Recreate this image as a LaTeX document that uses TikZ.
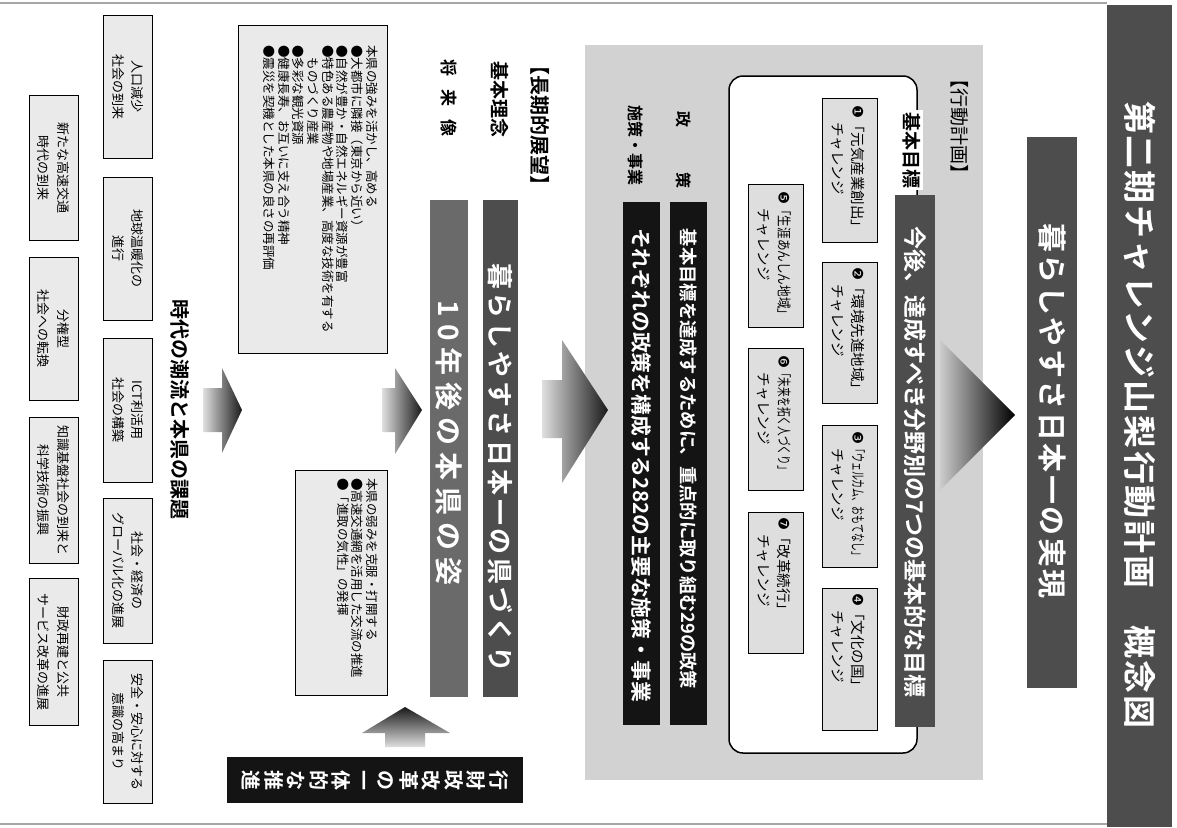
\documentclass[tikz,border=0pt]{standalone}
\usepackage{fontspec}
\usepackage{graphicx}
\setmainfont{Noto Sans CJK JP}[BoldFont={Noto Sans CJK JP Bold}]
\newfontfamily\dvfont{DejaVu Sans}
\newcommand\fsz[2]{\fontsize{#1}{#2}\selectfont}
\makeatletter
\newcommand\spc[2]{\def\spc@amt{#1}\spc@loop#2\relax}
\def\spc@loop#1{\ifx\relax#1\else#1\hspace{\spc@amt}\expandafter\spc@loop\fi}
\makeatother
\definecolor{darkbar}{HTML}{4D4D4D}
\definecolor{midbar}{HTML}{6A6A6A}
\definecolor{bgband}{HTML}{D2D2D2}
\definecolor{chbox}{HTML}{DEDEDE}
\definecolor{lightbox}{HTML}{EAEAEA}
\definecolor{nearblack}{HTML}{141414}
\begin{document}
\begin{tikzpicture}[x=1pt,y=-1pt,
  tx/.style={rotate=-90,inner sep=0pt},
  wtx/.style={rotate=-90,inner sep=0pt,text=white},
  chframe/.style={draw=black,line width=0.9pt,fill=chbox},
  lbox/.style={draw=black,line width=0.9pt,fill=lightbox},
  arrowshade/.style={left color=gray!25,right color=black!90}]
\useasboundingbox (0,0) rectangle (1177,827);
\fill[white] (0,0) rectangle (1177,827);
% page edges
\draw[gray!70,line width=1.2pt] (0,3) -- (1107,3);
\draw[gray!70,line width=1.2pt] (0,824) -- (1107,824);

% title
\fill[darkbar] (1107,5) rectangle (1172,827);
\node[wtx,font={\bfseries\fsz{33}{33}}] (title) at (1139.5,415) {\spc{2pt}{第二期チャレンジ山梨行動計画　概念図}};
\fill[darkbar] (1027,137) rectangle (1077,688);
\node[wtx,font={\bfseries\fsz{29}{29}}] (subtitle) at (1052,411) {\spc{2.5pt}{暮らしやすさ日本一の実現}};

% action plan band
\fill[bgband] (585,45) rectangle (983,780);
\shade[left color=gray!40,right color=black] (940,340) -- (1015,415) -- (940,490) -- cycle;
\node[tx,font={\fsz{19}{19}}] (koudou) at (960,126) {【行動計画】};
\draw[line width=1.5pt,fill=white,rounded corners=14pt] (729,76) rectangle (917,753);
\node[tx,fill=white,inner sep=2pt,font={\bfseries\fsz{19}{19}}] (kihon) at (912,150) {基本目標};
\fill[darkbar] (895,195) rectangle (935,727);
\node[wtx,font={\bfseries\fsz{23}{23}}] (kongo) at (915,462) {今後、達成すべき分野別の7つの基本的な目標};

% challenge boxes
\draw[chframe] (822,98) rectangle (877,242);
\draw[chframe] (822,262) rectangle (877,403);
\draw[chframe] (822,425) rectangle (877,567);
\draw[chframe] (822,588) rectangle (877,730);
\draw[chframe] (748,184) rectangle (803,327);
\draw[chframe] (748,348) rectangle (803,490);
\draw[chframe] (748,512) rectangle (803,653);
\node[tx,anchor=west,align=left,font={\fsz{14.5}{20}}] (ch1) at (848,105) {{\dvfont ❶}「元気産業創出」\\\hspace*{1.2em}チャレンジ};
\node[tx,anchor=west,align=left,font={\fsz{14.5}{20}}] (ch2) at (848,267) {{\dvfont ❷}「環境先進地域」\\\hspace*{1.2em}チャレンジ};
\node[tx,anchor=west,align=left,font={\fsz{14.5}{20}}] (ch3) at (848,431) {{\dvfont ❸}\scalebox{0.62}[1]{「ウェルカム、おもてなし」}\\\hspace*{1.2em}チャレンジ};
\node[tx,anchor=west,align=left,font={\fsz{14.5}{20}}] (ch4) at (848,593) {{\dvfont ❹}「文化の国」\\\hspace*{1.2em}チャレンジ};
\node[tx,anchor=west,align=left,font={\fsz{14.5}{20}}] (ch5) at (774,191) {{\dvfont ❺}\scalebox{0.8}[1]{「生涯あんしん地域」}\\\hspace*{1.2em}チャレンジ};
\node[tx,anchor=west,align=left,font={\fsz{14.5}{20}}] (ch6) at (774,355) {{\dvfont ❻}\scalebox{0.67}[1]{「未来を拓く人づくり」}\\\hspace*{1.2em}チャレンジ};
\node[tx,anchor=west,align=left,font={\fsz{14.5}{20}}] (ch7) at (774,517) {{\dvfont ❼}「改革続行」\\\hspace*{1.2em}チャレンジ};

% policies
\node[tx,font={\bfseries\fsz{16}{16}}] (seisaku) at (684,150) {政\hspace{45pt}策};
\node[tx,font={\bfseries\fsz{16}{16}}] (shisaku) at (636,145) {施策・事業};
\fill[nearblack] (670,202) rectangle (707,725);
\node[wtx,font={\bfseries\fsz{18.3}{18.3}}] (pol) at (688.5,459) {基本目標を達成するために、重点的に取り組む29の政策};
\fill[nearblack] (623,202) rectangle (660,725);
\node[wtx,font={\bfseries\fsz{20.8}{20.8}}] (mea) at (641.5,465) {それぞれの政策を構成する282の主要な施策・事業};

% arrow into action plan
\shade[arrowshade] (542,380) -- (562,380) -- (562,340) -- (608,410) -- (562,483) -- (562,438) -- (542,438) -- cycle;

% long-term vision
\node[tx,font={\bfseries\fsz{20}{20}}] (choki) at (540,125) {【長期的展望】};
\node[tx,font={\bfseries\fsz{19}{19}}] (rinen) at (500,99) {基本理念};
\node[tx,font={\bfseries\fsz{17}{17}}] (shorai) at (449,98) {将\hspace{13pt}来\hspace{13pt}像};
\fill[darkbar] (483,200) rectangle (518,697);
\node[wtx,font={\bfseries\fsz{26}{26}}] (rinentx) at (500.5,468) {\spc{3.5pt}{暮らしやすさ日本一の県づくり}};
\fill[midbar] (430,200) rectangle (468,697);
\node[wtx,font={\bfseries\fsz{28}{28}}] (shoraitx) at (449,443) {\spc{7pt}{10年後の本県の姿}};

% strengths / weaknesses
\draw[lbox] (238,25) rectangle (387,353);
\node[tx,anchor=north west,font={\fsz{12.5}{13.6}}] (tsuyomi) at (378,45) {\begin{tabular}{@{}l@{}}本県の強みを活かし、高める\\●大都市に隣接（東京から近い）\\●自然が豊か・自然エネルギー資源が豊富\\●特色ある農産物や地場産業、高度な技術を有する\\\phantom{●}ものづくり産業\\●多彩な観光資源\\●健康長寿、お互いに支え合う精神\\●震災を契機とした本県の良さの再評価\end{tabular}};
\draw[lbox] (295,470) rectangle (387,695);
\node[tx,anchor=north west,font={\fsz{12.5}{13.6}}] (yowami) at (378,478) {\begin{tabular}{@{}l@{}}本県の弱みを克服・打開する\\●高速交通網を活用した交流の推進\\●「進取の気性」の発揮\end{tabular}};

% arrows
\shade[arrowshade] (382,388) -- (395,388) -- (395,368) -- (422,410) -- (395,454) -- (395,432) -- (382,432) -- cycle;
\shade[arrowshade] (203,388) -- (222,388) -- (222,368) -- (242,410) -- (222,453) -- (222,432) -- (203,432) -- cycle;
\shade[top color=black!90,bottom color=gray!25] (385,747) -- (385,733) -- (362,733) -- (405,707) -- (450,733) -- (425,733) -- (425,747) -- cycle;

% administrative reform
\fill[nearblack] (227,757) rectangle (523,803);
\node[wtx,align=center,font={\bfseries\fsz{20}{22.5}}] (gyozai) at (375,780) {行\\財\\政\\改\\革\\の\\一\\体\\的\\な\\推\\進};

% trends
\node[tx,font={\bfseries\fsz{20}{20}}] (jidai) at (180,409) {時代の潮流と本県の課題};
\draw[lbox] (103,15) rectangle (152,158);
\draw[lbox] (103,177) rectangle (152,320);
\draw[lbox] (103,338) rectangle (152,482);
\draw[lbox] (103,498) rectangle (152,643);
\draw[lbox] (103,660) rectangle (152,803);
\draw[lbox] (29,95) rectangle (78,240);
\draw[lbox] (29,257) rectangle (78,400);
\draw[lbox] (29,417) rectangle (78,563);
\draw[lbox] (29,578) rectangle (78,725);
\node[tx,align=center,font={\fsz{13}{19.5}}] (tr1) at (128,86.5) {人口減少\\社会の到来};
\node[tx,align=center,font={\fsz{13}{19.5}}] (tr2) at (128,248.5) {地球温暖化の\\進行};
\node[tx,align=center,font={\fsz{13}{19.5}}] (tr3) at (128,410) {ICT利活用\\社会の構築};
\node[tx,align=center,font={\fsz{13}{19.5}}] (tr4) at (128,570.5) {社会・経済の\\グローバル化の進展};
\node[tx,align=center,font={\fsz{13}{19.5}}] (tr5) at (128,731.5) {安全・安心に対する\\意識の高まり};
\node[tx,align=center,font={\fsz{13}{19.5}}] (tr6) at (53.5,167.5) {新たな高速交通\\時代の到来};
\node[tx,align=center,font={\fsz{13}{19.5}}] (tr7) at (53.5,328.5) {分権型\\社会への転換};
\node[tx,align=center,font={\fsz{13}{19.5}}] (tr8) at (53.5,490) {知識基盤社会の到来と\\科学技術の振興};
\node[tx,align=center,font={\fsz{13}{19.5}}] (tr9) at (53.5,651.5) {財政再建と公共\\サービス改革の進展};
\end{tikzpicture}
\end{document}
